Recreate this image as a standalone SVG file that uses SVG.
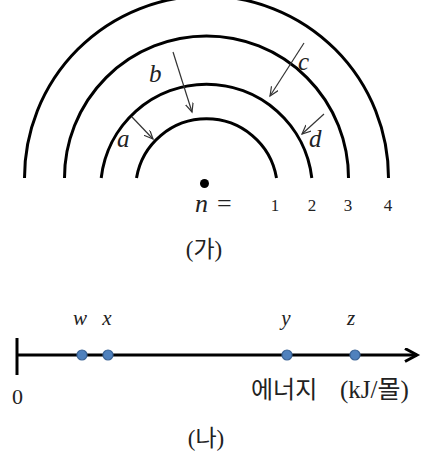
<svg xmlns="http://www.w3.org/2000/svg" width="429" height="458" viewBox="0 0 429 458">
<style>
.orbit{fill:none;stroke:#000;stroke-width:3}
.arr{fill:none;stroke:#333;stroke-width:1.2;marker-end:url(#ah)}
.it{font-family:"Liberation Serif",serif;font-style:italic;fill:#222}
.num{font-family:"Liberation Serif",serif;fill:#222}
.ko{font-family:"Liberation Serif","Noto Sans CJK KR",sans-serif;fill:#222}
.dot{fill:#4f81bd;stroke:#3b6496;stroke-width:1.2}
</style>
<defs>
<marker id="ah" markerUnits="userSpaceOnUse" markerWidth="12" markerHeight="12" refX="9" refY="4" orient="auto">
<path d="M0,0 L9,4 L0,8" fill="none" stroke="#333" stroke-width="1.2"/>
</marker>
<marker id="axh" markerUnits="userSpaceOnUse" markerWidth="18" markerHeight="18" refX="13" refY="7.5" orient="auto">
<path d="M1,1 L13,7.5 L1,14" fill="none" stroke="#000" stroke-width="3"/>
</marker>
</defs>
<g id="panel-ga">
<g id="orbit-1"><path class="orbit" d="M136.5 178 A71 71 0 0 1 276.5 178"/></g>
<g id="orbit-2"><path class="orbit" d="M101.2 178 A106 106 0 0 1 311.8 178"/></g>
<g id="orbit-3"><path class="orbit" d="M64.5 178 A142 142 0 0 1 348.5 178"/></g>
<g id="orbit-4"><path class="orbit" d="M24.5 178 A182 182 0 0 1 388.5 178"/></g>
<g id="nucleus"><circle cx="204.5" cy="183.5" r="4.5" fill="#000"/></g>
<g id="connectors">
<line class="arr" x1="132" y1="117" x2="153" y2="139"/>
<line class="arr" x1="173" y1="52" x2="192" y2="112"/>
<line class="arr" x1="304" y1="43" x2="270" y2="96"/>
<line class="arr" x1="324" y1="114" x2="302" y2="134"/>
</g>
<text class="it" x="117" y="147" font-size="25">a</text>
<text class="it" x="149" y="82" font-size="25">b</text>
<text class="it" x="298" y="70" font-size="25">c</text>
<text class="it" x="309" y="147" font-size="25">d</text>
<text class="it" x="195" y="212" font-size="26">n</text>
<text class="num" x="217" y="212" font-size="26">=</text>
<text class="num" x="275" y="211" font-size="17" text-anchor="middle">1</text>
<text class="num" x="312" y="211" font-size="17" text-anchor="middle">2</text>
<text class="num" x="348" y="211" font-size="17" text-anchor="middle">3</text>
<text class="num" x="388" y="211" font-size="17" text-anchor="middle">4</text>
<text class="ko" x="204" y="257" font-size="23" text-anchor="middle">(가)</text>
</g>
<g id="panel-na">
<line x1="17" y1="338" x2="17" y2="375" stroke="#000" stroke-width="3"/>
<line x1="17" y1="355" x2="417" y2="355" stroke="#000" stroke-width="3" marker-end="url(#axh)"/>
<g id="w"><circle class="dot" cx="82" cy="355" r="5"/><text class="it" x="80" y="325" font-size="21" text-anchor="middle">w</text></g>
<g id="x"><circle class="dot" cx="108" cy="355" r="5"/><text class="it" x="107" y="325" font-size="21" text-anchor="middle">x</text></g>
<g id="y"><circle class="dot" cx="287" cy="355" r="5"/><text class="it" x="286" y="325" font-size="21" text-anchor="middle">y</text></g>
<g id="z"><circle class="dot" cx="355" cy="355" r="5"/><text class="it" x="351" y="325" font-size="21" text-anchor="middle">z</text></g>
<text class="num" x="17.5" y="404" font-size="22" text-anchor="middle">0</text>
<text x="251" y="398" font-family="'Noto Sans CJK KR',sans-serif" font-size="24" fill="#222">에너지</text>
<text class="ko" x="340" y="398" font-size="25">(kJ/몰)</text>
<text class="ko" x="206" y="446" font-size="23" text-anchor="middle">(나)</text>
</g>
</svg>
